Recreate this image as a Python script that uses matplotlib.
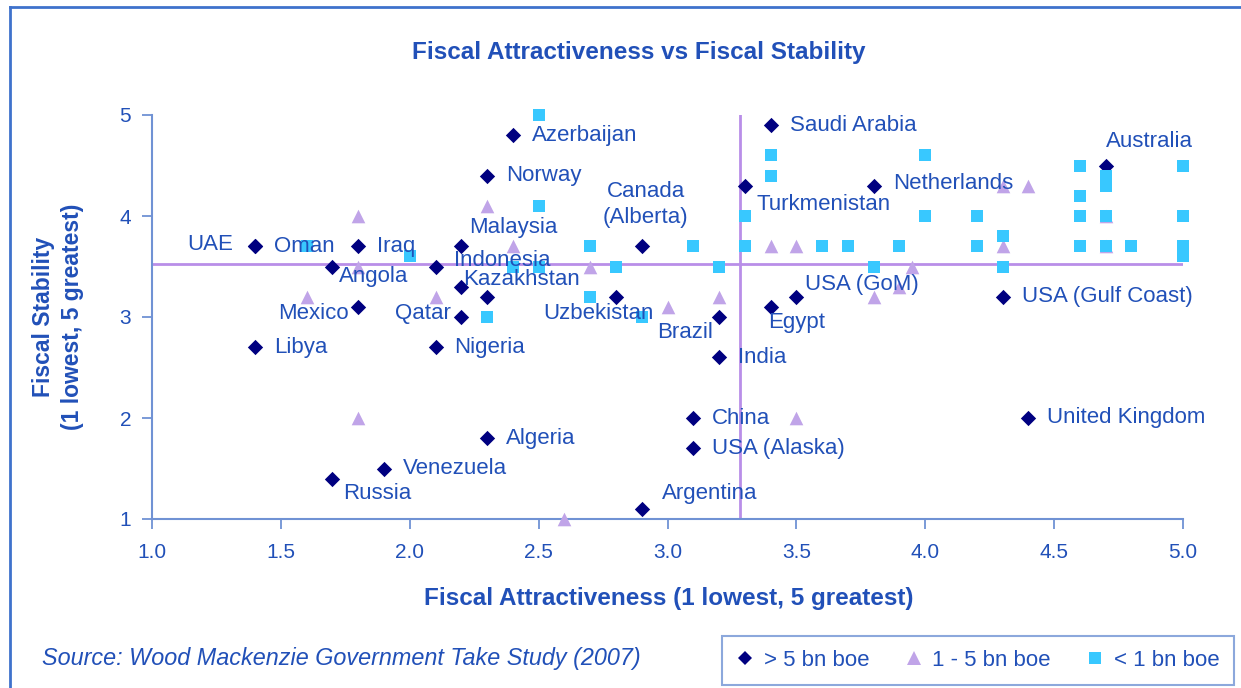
import matplotlib
matplotlib.use("Agg")
import matplotlib.pyplot as plt
from matplotlib.lines import Line2D

plt.rcParams["font.family"] = ["Liberation Sans", "DejaVu Sans"]

# =============================================================================
# Data (fiscal attractiveness, fiscal stability)
# =============================================================================
# > 5 bn boe
big_x = [1.4, 1.4, 1.8, 2.2, 1.7, 2.1, 2.2, 2.3, 1.8, 2.2, 1.4, 2.1, 2.3, 2.4,
         2.9, 2.8, 3.2, 3.4, 3.3, 3.4, 3.8, 4.7, 3.5, 4.3, 3.2, 3.1, 3.1, 4.4,
         2.3, 1.9, 1.7, 2.9]
big_y = [3.7, 3.7, 3.7, 3.7, 3.5, 3.5, 3.3, 3.2, 3.1, 3.0, 2.7, 2.7, 4.4, 4.8,
         3.7, 3.2, 3.0, 3.1, 4.3, 4.9, 4.3, 4.5, 3.2, 3.2, 2.6, 2.0, 1.7, 2.0,
         1.8, 1.5, 1.4, 1.1]
big_names = ["UAE", "Oman", "Iraq", "", "Angola", "Indonesia", "Kazakhstan", "",
             "Mexico", "Qatar", "Libya", "Nigeria", "Norway", "Azerbaijan",
             "Canada\n(Alberta)", "Uzbekistan", "Brazil", "Egypt", "Turkmenistan",
             "Saudi Arabia", "Netherlands", "Australia", "USA (GoM)",
             "USA (Gulf Coast)", "India", "China", "USA (Alaska)", "United Kingdom",
             "Algeria", "Venezuela", "Russia", "Argentina"]

# 1 - 5 bn boe
mid_x = [1.8, 1.8, 1.6, 2.1, 2.3, 2.4, 2.7, 3.2, 3.0, 3.4, 3.5, 4.4, 4.3, 4.7,
         4.7, 4.3, 3.95, 3.8, 3.9, 1.8, 2.6, 3.5]
mid_y = [4.0, 3.5, 3.2, 3.2, 4.1, 3.7, 3.5, 3.2, 3.1, 3.7, 3.7, 4.3, 4.3, 4.0,
         3.7, 3.7, 3.5, 3.2, 3.3, 2.0, 1.0, 2.0]
mid_names = ["", "", "", "", "", "Malaysia", "", "", "", "", "", "", "", "",
             "", "", "", "", "", "", "", ""]

# < 1 bn boe
small_x = [2.5, 2.5, 1.6, 2.0, 2.3, 2.7, 2.4, 2.5, 2.8, 2.7, 2.9, 3.1, 3.2, 3.3,
           3.3, 3.4, 3.4, 3.6, 3.7, 3.8, 3.9, 4.0, 4.0, 4.2, 4.2, 4.3, 4.3, 4.6,
           4.6, 4.6, 4.6, 4.7, 4.7, 4.7, 4.7, 4.8, 5.0, 5.0, 5.0, 5.0]
small_y = [5.0, 4.1, 3.7, 3.6, 3.0, 3.7, 3.5, 3.5, 3.5, 3.2, 3.0, 3.7, 3.5, 3.7,
           4.0, 4.6, 4.4, 3.7, 3.7, 3.5, 3.7, 4.6, 4.0, 4.0, 3.7, 3.8, 3.5, 4.5,
           4.2, 4.0, 3.7, 4.4, 4.3, 4.0, 3.7, 3.7, 4.5, 4.0, 3.7, 3.6]

# average lines
avg_x = 3.28
avg_y = 3.52

x_ticks = [1.0, 1.5, 2.0, 2.5, 3.0, 3.5, 4.0, 4.5, 5.0]
y_ticks = [1, 2, 3, 4, 5]

legend_labels = ["> 5 bn boe", "1 - 5 bn boe", "< 1 bn boe"]

# label placement: (dx, dy) in pixels from the marker, horizontal alignment
LABEL_POS = {
    "UAE": (-22, 2, "right"),
    "Angola": (7, -10, "left"),
    "Indonesia": (18, 6, "left"),
    "Kazakhstan": (2, 7, "left"),
    "Mexico": (-9, -7, "right"),
    "Qatar": (-10, 4, "right"),
    "Canada\n(Alberta)": (4, 42, "center"),
    "Uzbekistan": (-18, -17, "center"),
    "Brazil": (-6, -16, "right"),
    "Egypt": (-2, -16, "left"),
    "Turkmenistan": (12, -19, "left"),
    "Netherlands": (19, 2, "left"),
    "Australia": (0, 24, "left"),
    "USA (GoM)": (9, 12, "left"),
    "Russia": (11, -15, "left"),
    "Argentina": (20, 15, "left"),
    "Malaysia": (0, 19, "center"),
}
DEFAULT_POS = (19, 0, "left")

TEXT_C = "#2150b8"
AXIS_C = "#7092d4"
FRAME_C = "#3f72cc"
BIG_C = "#000080"
MID_C = "#c0a4e8"
SMALL_C = "#38c8ff"
LINE_C = "#b98ee8"

W, H = 1241, 688
fig = plt.figure(figsize=(W / 100, H / 100), dpi=100)
ax = fig.add_axes([152 / W, 1 - 519 / H, (1183 - 152) / W, (519 - 115) / H])

ax.axhline(avg_y, color=LINE_C, lw=2, zorder=1)
ax.axvline(avg_x, color=LINE_C, lw=2, zorder=1)

ax.scatter(big_x, big_y, marker="D", s=7.8 ** 2, color=BIG_C, lw=0, zorder=3, clip_on=False)
ax.scatter(mid_x, mid_y, marker="^", s=9.8 ** 2, color=MID_C, lw=0, zorder=4, clip_on=False)
ax.scatter(small_x, small_y, marker="s", s=8.8 ** 2, color=SMALL_C, lw=0, zorder=5, clip_on=False)


def put_labels(xs, ys, names):
    for x, y, name in zip(xs, ys, names):
        if not name:
            continue
        dx, dy, ha = LABEL_POS.get(name, DEFAULT_POS)
        ax.annotate(name, (x, y), xytext=(dx, dy), textcoords="offset pixels",
                    ha=ha, va="center", multialignment="center", linespacing=1.3,
                    fontsize=16, color=TEXT_C, zorder=6, annotation_clip=False)


put_labels(big_x, big_y, big_names)
put_labels(mid_x, mid_y, mid_names)

ax.set_xlim(1.0, 5.0)
ax.set_ylim(1, 5)
ax.set_xticks(x_ticks)
ax.set_xticklabels([f"{t:.1f}" for t in x_ticks])
ax.set_yticks(y_ticks)
ax.set_yticklabels([str(t) for t in y_ticks])
for side in ("top", "right"):
    ax.spines[side].set_visible(False)
for side in ("left", "bottom"):
    ax.spines[side].set_color(AXIS_C)
    ax.spines[side].set_linewidth(1.5)
ax.tick_params(axis="both", direction="out", length=7, width=1.3, color=AXIS_C,
               labelcolor=TEXT_C, labelsize=15)
ax.tick_params(axis="x", pad=10)
ax.tick_params(axis="y", pad=8)

fig.text(639 / W, 1 - 52 / H, "Fiscal Attractiveness vs Fiscal Stability",
         ha="center", va="center", fontsize=17.5, weight="bold", color=TEXT_C)
fig.text(669 / W, 1 - 598 / H, "Fiscal Attractiveness (1 lowest, 5 greatest)",
         ha="center", va="center", fontsize=17.5, weight="bold", color=TEXT_C)
fig.text(58 / W, 1 - 317 / H, "Fiscal Stability\n(1 lowest, 5 greatest)",
         ha="center", va="center", rotation=90, fontsize=16.5, weight="bold",
         color=TEXT_C, linespacing=1.35)
fig.text(42 / W, 1 - 658 / H, "Source: Wood Mackenzie Government Take Study (2007)",
         ha="left", va="center", fontsize=16.8, style="italic", color=TEXT_C)

# chart frame (only top and left edges are in view)
fig.add_artist(Line2D([10 / W, 10 / W], [0, 1 - 7 / H], transform=fig.transFigure,
                      color=FRAME_C, lw=2))
fig.add_artist(Line2D([10 / W, 1], [1 - 7 / H, 1 - 7 / H], transform=fig.transFigure,
                      color=FRAME_C, lw=2))

handles = [
    Line2D([], [], marker="D", ls="", ms=7, color=BIG_C, mew=0),
    Line2D([], [], marker="^", ls="", ms=9.8, color=MID_C, mew=0),
    Line2D([], [], marker="s", ls="", ms=8.8, color=SMALL_C, mew=0),
]
leg = fig.legend(handles, legend_labels, loc="lower left",
                 bbox_to_anchor=(722 / W, 3 / H), ncol=3, frameon=True,
                 fancybox=False, fontsize=16, handlelength=0.8, handletextpad=0.45,
                 columnspacing=1.6, borderpad=0.62, borderaxespad=0)
leg.get_frame().set_edgecolor(AXIS_C)
leg.get_frame().set_linewidth(1.5)
for t in leg.get_texts():
    t.set_color(TEXT_C)

fig.savefig("out.png", dpi=100)
